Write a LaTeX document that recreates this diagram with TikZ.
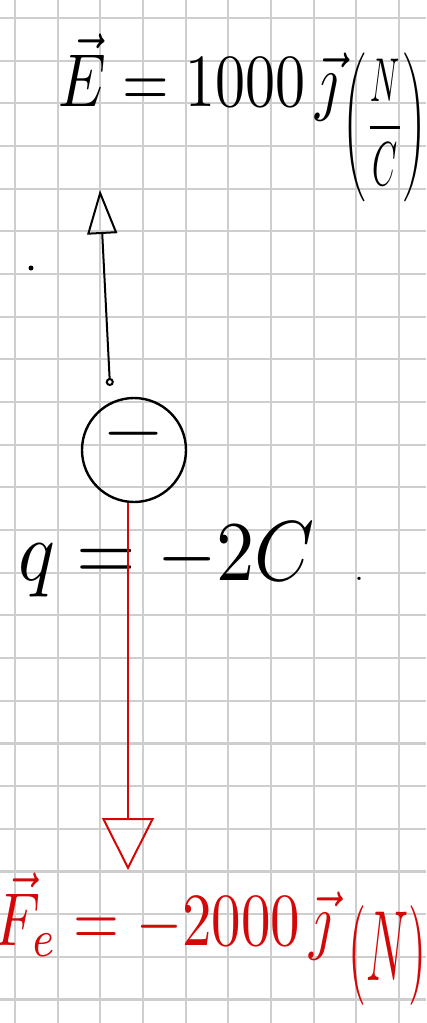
\documentclass[tikz,border=0pt]{standalone}
\usepackage{amsmath}
\usepackage{tikz}
\usetikzlibrary{arrows.meta, positioning}

\definecolor{gridgray}{RGB}{206,206,206}
\definecolor{inkred}{RGB}{212,8,8}
\newcommand{\handtext}[3]{\scalebox{#1}[#2]{#3}}

\begin{document}
\begin{tikzpicture}[
        x=1pt, y=-1pt,
        gridline/.style={gridgray, line width=2.2pt},
        hand/.style={font=\fontsize{10}{12}\selectfont, inner sep=0pt},
        charge/.style={circle, draw, line width=2.4pt, minimum size=104pt, inner sep=0pt},
        fieldarrow/.style={{Circle[open, length=8pt]}-{Triangle[open, length=44pt, width=30pt]}, line width=2pt},
        forcearrow/.style={-{Triangle[open, length=52pt, width=52pt]}, inkred, line width=2pt}
    ]

    % Paper
    \useasboundingbox (0,0) rectangle (426,1023);
    \fill[white] (0,0) rectangle (426,1023);
    \foreach \i in {0,...,9}
        \draw[gridline] ({15+42.67*\i},0) -- ({15+42.67*\i},1023);
    \foreach \j in {0,...,23}
        \draw[gridline] (0,{18+42.67*\j}) -- (426,{18+42.67*\j});

    % Nodes
    \node[hand, anchor=base west] (field) at (58,106) {\handtext{6}{7.5}{$\vec{E}=1000\,\vec{\jmath}$}\hspace{4pt}\handtext{3.2}{6.2}{\raisebox{-6pt}{$\left(\dfrac{N}{C}\right)$}}};
    \fill (31,268) circle (2.5pt);
    \node[charge] (q) at (134,450) {};
    \node[hand] (qsign) at ([yshift=16pt]q.center) {\handtext{8}{7.5}{$-$}};
    \node[hand, anchor=base west] (qvalue) at (18,580) {\handtext{7.65}{8.5}{$q=-2C$}\hspace{40pt}{\fontsize{40}{40}\selectfont.}};
    \node[hand, inkred, anchor=base west] (force) at (-6,945) {\handtext{5.9}{7.5}{$\vec{F}_e=-2000\,\vec{\jmath}$}\hspace{16pt}\handtext{4.6}{10}{\raisebox{-3.5pt}{$(N)$}}};

    \coordinate (fieldtail) at (110,386);
    \coordinate (fieldtip) at (100,190);
    \coordinate (forcetip) at (128,870);

    % Arrows
    \draw[fieldarrow] (fieldtail) -- (fieldtip);
    \draw[forcearrow] ([xshift=-6pt]q.south) -- (forcetip);

\end{tikzpicture}
\end{document}
